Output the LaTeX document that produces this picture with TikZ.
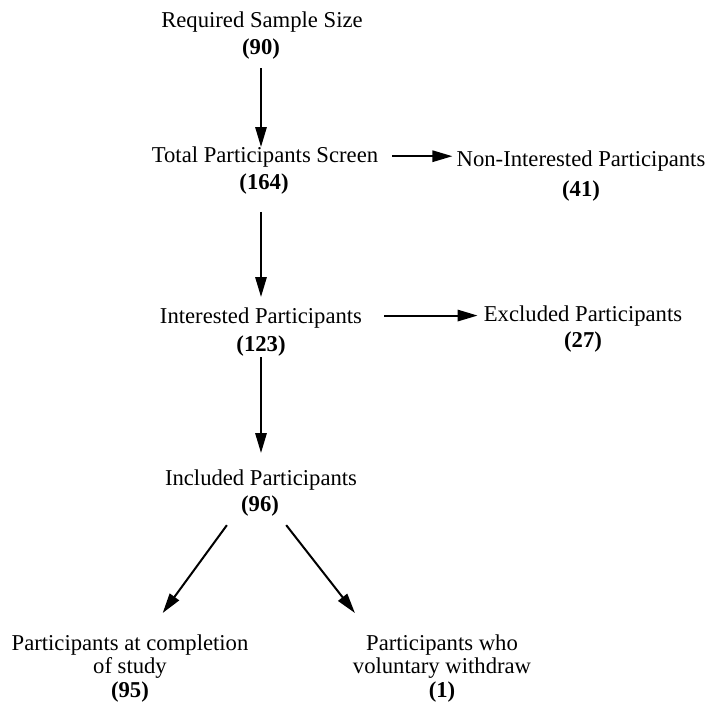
\documentclass[tikz,border=0pt]{standalone}
\usepackage{fontspec}
\setmainfont{Liberation Serif}
\usetikzlibrary{arrows.meta}

\begin{document}
\begin{tikzpicture}[x=0.75pt,y=0.75pt,yscale=-1,xscale=1,
    txt/.style={inner sep=0pt,anchor=base,font=\fontsize{17}{20}\selectfont,align=center},
    endtxt/.style={txt,anchor=north,font=\fontsize{17}{17.8}\selectfont},
    arr/.style={line width=1.5pt,-{Triangle[length=15pt,width=8.5pt]}}]
    %set diagram size
    \useasboundingbox (0,0) rectangle (709,702);

    % Text Node
    \draw (262,28) node (req) [txt] {Required Sample Size};
    \draw (261,55) node (req-n) [txt] {\textbf{(90)}};
    % Text Node
    \draw (265,163) node (total) [txt] {Total Participants Screen};
    \draw (264,190) node (total-n) [txt] {\textbf{(164)}};
    % Text Node
    \draw (581,167) node (nonint) [txt] {Non-Interested Participants};
    \draw (581,196) node (nonint-n) [txt] {\textbf{(41)}};
    % Text Node
    \draw (261,323) node (int) [txt] {Interested Participants};
    \draw (261,351) node (int-n) [txt] {\textbf{(123)}};
    % Text Node
    \draw (583,321) node (excl) [txt] {Excluded Participants};
    \draw (583,347) node (excl-n) [txt] {\textbf{(27)}};
    % Text Node
    \draw (261,485) node (incl) [txt] {Included Participants};
    \draw (260,511) node (incl-n) [txt] {\textbf{(96)}};
    % Text Node
    \draw (130,634) node (comp) [endtxt] {Participants at completion\\of study\\\textbf{(95)}};
    % Text Node
    \draw (442,634) node (wd) [endtxt] {Participants who\\voluntary withdraw\\\textbf{(1)}};

    % Arrows
    \draw [arr,shorten <=6pt] (req-n.south) -- (req-n |- total.north);
    \draw [arr,shorten <=12.5pt,shorten >=7.5pt] (int |- total-n.south) -- (int.north);
    \draw [arr,shorten <=1pt,shorten >=12pt] (int-n.south) -- (int-n |- incl.north);
    \draw [arr,shorten <=10.5pt,shorten >=3pt] ([yshift=-1pt]total.east) -- ([yshift=-1pt]total.east -| nonint.west);
    \draw [arr,shorten <=16.5pt,shorten >=4.5pt] (int.east |- excl.west) -- (excl.west);
    \draw [arr,shorten <=8.4pt,shorten >=19.5pt] ([xshift=-5.5pt]incl-n.south west) -- ([xshift=13pt]comp.north);
    \draw [arr,shorten <=8.6pt,shorten >=20pt] (incl-n.south east) -- ([xshift=-53pt]wd.north);
\end{tikzpicture}
\end{document}
